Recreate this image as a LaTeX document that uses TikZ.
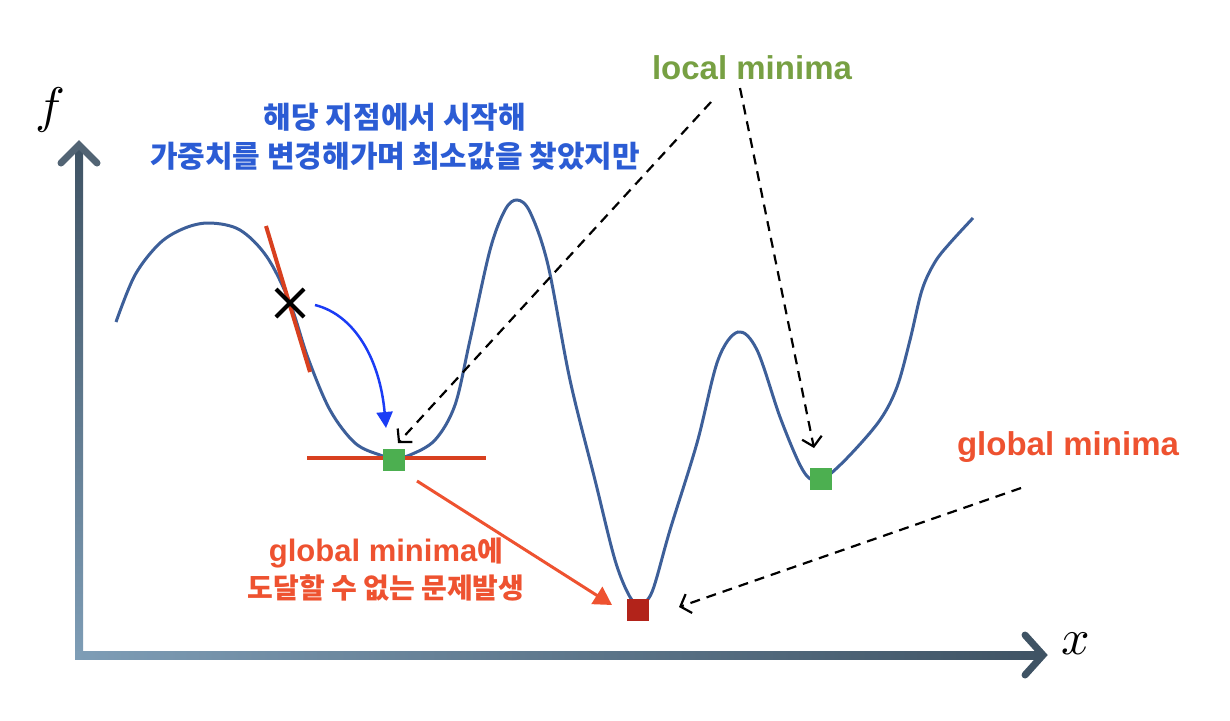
\documentclass[tikz,border=0pt]{standalone}
\usepackage{fontspec}
\setmainfont{Liberation Sans}
\newfontfamily\kr{Noto Sans CJK KR}
\usetikzlibrary{arrows.meta}
\definecolor{curveblue}{HTML}{3D5F99}
\definecolor{tanred}{HTML}{D8401F}
\definecolor{bluetxt}{HTML}{2B5CD4}
\definecolor{bluearr}{HTML}{1B3CF5}
\definecolor{greentxt}{HTML}{77A043}
\definecolor{orangetxt}{HTML}{EE5230}
\definecolor{greensq}{HTML}{4CAF50}
\definecolor{redsq}{HTML}{B2231A}
\definecolor{axdark}{HTML}{3F5364}
\definecolor{axlight}{HTML}{7E9DB6}
\tikzset{
  curve/.style={curveblue, line width=3pt},
  tanline/.style={tanred, line width=4pt},
  sq/.style={minimum size=22pt, inner sep=0pt, outer sep=0pt},
  dasharrow/.style={black, line width=2.2pt, dash pattern=on 10pt off 7pt, -{Straight Barb[length=9pt,width=20pt,line width=2.2pt]}},
  lbl/.style={font=\bfseries\fontsize{33}{40}\selectfont, inner sep=0pt},
  krlbl/.style={font=\kr\bfseries\fontsize{30}{39}\selectfont, align=center, inner sep=0pt},
  mathlbl/.style={scale=5, inner sep=0pt},
}
\begin{document}
\begin{tikzpicture}[x=1pt,y=-1pt]
\useasboundingbox (0,0) rectangle (1230,720);
% axes
\coordinate (O) at (79,655);
\shade[top color=axdark, bottom color=axlight] (75,145) rectangle (83,659);
\shade[left color=axlight, right color=axdark] (75,651) rectangle (1040,659);
\draw[axdark!90!white, line width=7pt, line cap=round, line join=miter] (61,163) -- (79,145) -- (97,163);
\draw[axdark, line width=7pt, line cap=round, line join=miter] (1025,635) -- (1043,655) -- (1025,675);
\node[mathlbl] (fl) at (50,110) {$f$};
\node[mathlbl] (xl) at (1076,644) {$x$};
% curve
\draw[curve] plot[smooth, tension=0.55] coordinates {
(116,322) (135,275) (160,243) (185,228) (210,223) (240,230) (267,257) (290,303) (308,358)
(330,410) (355,443) (380,455) (395,458) (410,455) (435,440) (455,405) (470,340)
(490,250) (505,210) (517,200) (530,212) (548,265) (570,380) (595,480) (615,560)
(630,597) (640,603) (652,592) (670,530) (697,443) (718,360) (738,332) (757,350)
(780,417) (800,465) (812,480) (825,478) (850,455) (880,420) (897,387) (910,340)
(922,290) (935,262) (950,243) (973,218)};
% tangent lines
\coordinate (t1) at (266,226);
\coordinate (t2) at (310,372);
\draw[tanline] (t1) -- (t2);
\coordinate (h1) at (307,458);
\coordinate (h2) at (486,458);
\draw[tanline] (h1) -- (h2);
% X mark
\node (X) at (290,303) {};
\draw[black, line width=4pt] (276,289) -- (304,317) (304,289) -- (276,317);
% squares
\node[sq, fill=greensq] (m1) at (394,460) {};
\node[sq, fill=redsq] (gm) at (638,610) {};
\node[sq, fill=greensq] (m2) at (821,479) {};
% blue curved arrow
\coordinate (b0) at (315,305);
\coordinate (b1) at (386,428);
\draw[bluearr, line width=2.5pt, -{Triangle[length=16pt,width=16pt]}] (b0) .. controls (355,315) and (380,360) .. (b1);
% red arrow
\coordinate (r0) at (417,481);
\coordinate (r1) at (612,605);
\draw[orangetxt, line width=3pt, -{Triangle[length=18pt,width=20pt]}] (r0) -- (r1);
% labels
\node[krlbl, text=bluetxt] (topl) at (395,137) {해당 지점에서 시작해\\가중치를 변경해가며 최소값을 찾았지만};
\node[lbl, text=greentxt] (loc) at (752,68) {local minima};
\node[lbl, text=orangetxt] (glob) at (1068,447) {global minima};
\node[font=\bfseries\fontsize{31}{37}\selectfont, text=orangetxt, align=center, inner sep=0pt] (prob) at (386,570) {global minima{\kr\fontsize{28}{37}\selectfont 에}\\{\kr\fontsize{28}{37}\selectfont 도달할 수 없는 문제발생}};
% dashed arrows
\coordinate (d1) at (711,102);
\coordinate (e1) at (398,443);
\coordinate (d2) at (740,88);
\coordinate (e2) at (814,448);
\coordinate (d3) at (1021,488);
\coordinate (e3) at (679,607);
\draw[dasharrow] (d1) -- (e1);
\draw[dasharrow] (d2) -- (e2);
\draw[dasharrow] (d3) -- (e3);
\end{tikzpicture}
\end{document}
